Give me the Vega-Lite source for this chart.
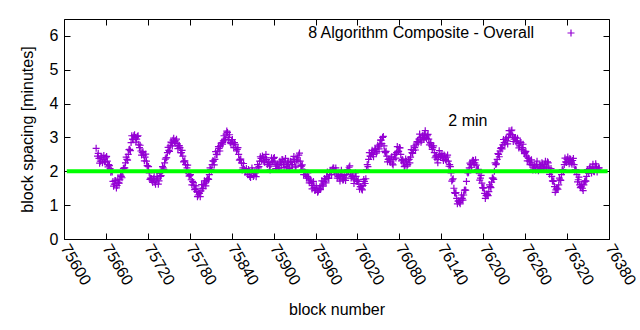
{
  "$schema": "https://vega.github.io/schema/vega-lite/v6.json",
  "width": 545,
  "height": 220,
  "autosize": {"type": "none"},
  "padding": {"left": 64, "top": 19, "right": 31, "bottom": 91},
  "background": "white",
  "config": {
    "font": "Liberation Sans",
    "view": {"stroke": "black", "strokeWidth": 1},
    "axis": {"grid": false, "domain": false, "tickColor": "black", "labelColor": "black", "titleColor": "black", "labelFontSize": 16, "titleFontSize": 16, "titleFontWeight": "normal", "labelFont": "Liberation Sans", "titleFont": "Liberation Sans"}
  },
  "datasets": {
    "blocks": [
      {"block":75646,"spacing":2.68},{"block":75648,"spacing":2.45},{"block":75650,"spacing":2.38},{"block":75652,"spacing":2.3},{"block":75654,"spacing":2.42},{"block":75656,"spacing":2.35},{"block":75658,"spacing":2.28},{"block":75660,"spacing":2.4},{"block":75662,"spacing":2.3},{"block":75664,"spacing":2.2},
      {"block":75666,"spacing":2.08},{"block":75668,"spacing":2.02},{"block":75670,"spacing":1.7},{"block":75672,"spacing":1.62},{"block":75674,"spacing":1.72},{"block":75676,"spacing":1.58},{"block":75678,"spacing":1.66},{"block":75680,"spacing":1.75},{"block":75682,"spacing":1.85},{"block":75684,"spacing":2.0},
      {"block":75686,"spacing":2.1},{"block":75688,"spacing":2.25},{"block":75690,"spacing":2.35},{"block":75692,"spacing":2.5},{"block":75694,"spacing":2.65},{"block":75696,"spacing":2.85},{"block":75698,"spacing":2.95},{"block":75700,"spacing":3.05},{"block":75702,"spacing":3.0},{"block":75704,"spacing":2.95},
      {"block":75706,"spacing":3.05},{"block":75708,"spacing":2.7},{"block":75710,"spacing":2.6},{"block":75712,"spacing":2.55},{"block":75714,"spacing":2.48},{"block":75716,"spacing":2.42},{"block":75718,"spacing":2.3},{"block":75720,"spacing":2.15},{"block":75722,"spacing":1.95},{"block":75724,"spacing":1.8},
      {"block":75726,"spacing":1.72},{"block":75728,"spacing":1.78},{"block":75730,"spacing":1.68},{"block":75732,"spacing":1.75},{"block":75734,"spacing":1.8},{"block":75736,"spacing":1.72},{"block":75738,"spacing":1.85},{"block":75740,"spacing":2.0},{"block":75742,"spacing":2.1},{"block":75744,"spacing":2.25},
      {"block":75746,"spacing":2.4},{"block":75748,"spacing":2.55},{"block":75750,"spacing":2.62},{"block":75752,"spacing":2.75},{"block":75754,"spacing":2.85},{"block":75756,"spacing":2.92},{"block":75758,"spacing":2.88},{"block":75760,"spacing":2.9},{"block":75762,"spacing":2.82},{"block":75764,"spacing":2.75},
      {"block":75766,"spacing":2.7},{"block":75768,"spacing":2.55},{"block":75770,"spacing":2.45},{"block":75772,"spacing":2.3},{"block":75774,"spacing":2.2},{"block":75776,"spacing":2.1},{"block":75778,"spacing":1.95},{"block":75780,"spacing":1.88},{"block":75782,"spacing":1.75},{"block":75784,"spacing":1.7},
      {"block":75786,"spacing":1.58},{"block":75788,"spacing":1.5},{"block":75790,"spacing":1.4},{"block":75792,"spacing":1.3},{"block":75794,"spacing":1.35},{"block":75796,"spacing":1.42},{"block":75798,"spacing":1.5},{"block":75800,"spacing":1.6},{"block":75802,"spacing":1.65},{"block":75804,"spacing":1.72},
      {"block":75806,"spacing":1.78},{"block":75808,"spacing":1.9},{"block":75810,"spacing":2.05},{"block":75812,"spacing":2.2},{"block":75814,"spacing":2.3},{"block":75816,"spacing":2.35},{"block":75818,"spacing":2.5},{"block":75820,"spacing":2.6},{"block":75822,"spacing":2.68},{"block":75824,"spacing":2.75},
      {"block":75826,"spacing":2.85},{"block":75828,"spacing":2.9},{"block":75830,"spacing":2.95},{"block":75832,"spacing":3.1},{"block":75834,"spacing":3.15},{"block":75836,"spacing":3.0},{"block":75838,"spacing":2.85},{"block":75840,"spacing":2.9},{"block":75842,"spacing":2.8},{"block":75844,"spacing":2.85},
      {"block":75846,"spacing":2.7},{"block":75848,"spacing":2.65},{"block":75850,"spacing":2.5},{"block":75852,"spacing":2.35},{"block":75854,"spacing":2.25},{"block":75856,"spacing":2.1},{"block":75858,"spacing":2.05},{"block":75860,"spacing":2.0},{"block":75862,"spacing":1.98},{"block":75864,"spacing":2.05},
      {"block":75866,"spacing":1.85},{"block":75868,"spacing":1.95},{"block":75870,"spacing":2.02},{"block":75872,"spacing":1.88},{"block":75874,"spacing":1.95},{"block":75876,"spacing":2.0},{"block":75878,"spacing":2.1},{"block":75880,"spacing":2.3},{"block":75882,"spacing":2.38},{"block":75884,"spacing":2.45},
      {"block":75886,"spacing":2.3},{"block":75888,"spacing":2.4},{"block":75890,"spacing":2.35},{"block":75892,"spacing":2.25},{"block":75894,"spacing":2.15},{"block":75896,"spacing":2.2},{"block":75898,"spacing":2.3},{"block":75900,"spacing":2.38},{"block":75902,"spacing":2.25},{"block":75904,"spacing":2.15},
      {"block":75906,"spacing":2.2},{"block":75908,"spacing":2.1},{"block":75910,"spacing":2.25},{"block":75912,"spacing":2.35},{"block":75914,"spacing":2.2},{"block":75916,"spacing":2.3},{"block":75918,"spacing":2.15},{"block":75920,"spacing":2.25},{"block":75922,"spacing":2.1},{"block":75924,"spacing":2.3},
      {"block":75926,"spacing":2.2},{"block":75928,"spacing":2.35},{"block":75930,"spacing":2.28},{"block":75932,"spacing":2.15},{"block":75934,"spacing":2.4},{"block":75936,"spacing":2.48},{"block":75938,"spacing":2.3},{"block":75940,"spacing":2.15},{"block":75942,"spacing":2.05},{"block":75944,"spacing":1.98},
      {"block":75946,"spacing":1.9},{"block":75948,"spacing":1.85},{"block":75950,"spacing":1.8},{"block":75952,"spacing":1.72},{"block":75954,"spacing":1.65},{"block":75956,"spacing":1.58},{"block":75958,"spacing":1.52},{"block":75960,"spacing":1.45},{"block":75962,"spacing":1.5},{"block":75964,"spacing":1.42},
      {"block":75966,"spacing":1.5},{"block":75968,"spacing":1.58},{"block":75970,"spacing":1.62},{"block":75972,"spacing":1.7},{"block":75974,"spacing":1.75},{"block":75976,"spacing":1.85},{"block":75978,"spacing":1.8},{"block":75980,"spacing":1.9},{"block":75982,"spacing":1.98},{"block":75984,"spacing":2.05},
      {"block":75986,"spacing":2.1},{"block":75988,"spacing":2.0},{"block":75990,"spacing":1.95},{"block":75992,"spacing":1.85},{"block":75994,"spacing":1.8},{"block":75996,"spacing":1.9},{"block":75998,"spacing":1.85},{"block":76000,"spacing":1.75},{"block":76002,"spacing":1.8},{"block":76004,"spacing":1.9},
      {"block":76006,"spacing":2.05},{"block":76008,"spacing":2.12},{"block":76010,"spacing":1.95},{"block":76012,"spacing":1.85},{"block":76014,"spacing":1.8},{"block":76016,"spacing":1.75},{"block":76018,"spacing":1.85},{"block":76020,"spacing":1.7},{"block":76022,"spacing":1.62},{"block":76024,"spacing":1.55},
      {"block":76026,"spacing":1.48},{"block":76028,"spacing":1.58},{"block":76030,"spacing":1.7},{"block":76032,"spacing":1.78},{"block":76034,"spacing":2.2},{"block":76036,"spacing":2.35},{"block":76038,"spacing":2.45},{"block":76040,"spacing":2.55},{"block":76042,"spacing":2.5},{"block":76044,"spacing":2.6},
      {"block":76046,"spacing":2.65},{"block":76048,"spacing":2.58},{"block":76050,"spacing":2.72},{"block":76052,"spacing":2.8},{"block":76054,"spacing":2.92},{"block":76056,"spacing":3.0},{"block":76058,"spacing":2.75},{"block":76060,"spacing":2.55},{"block":76062,"spacing":2.45},{"block":76064,"spacing":2.35},
      {"block":76066,"spacing":2.3},{"block":76068,"spacing":2.4},{"block":76070,"spacing":2.22},{"block":76072,"spacing":2.35},{"block":76074,"spacing":2.5},{"block":76076,"spacing":2.55},{"block":76078,"spacing":2.6},{"block":76080,"spacing":2.7},{"block":76082,"spacing":2.5},{"block":76084,"spacing":2.35},
      {"block":76086,"spacing":2.25},{"block":76088,"spacing":2.18},{"block":76090,"spacing":2.3},{"block":76092,"spacing":2.2},{"block":76094,"spacing":2.35},{"block":76096,"spacing":2.42},{"block":76098,"spacing":2.55},{"block":76100,"spacing":2.62},{"block":76102,"spacing":2.7},{"block":76104,"spacing":2.8},
      {"block":76106,"spacing":2.88},{"block":76108,"spacing":2.95},{"block":76110,"spacing":3.0},{"block":76112,"spacing":2.92},{"block":76114,"spacing":3.05},{"block":76116,"spacing":3.1},{"block":76118,"spacing":3.0},{"block":76120,"spacing":3.05},{"block":76122,"spacing":2.95},{"block":76124,"spacing":2.85},
      {"block":76126,"spacing":2.75},{"block":76128,"spacing":2.7},{"block":76130,"spacing":2.55},{"block":76132,"spacing":2.45},{"block":76134,"spacing":2.35},{"block":76136,"spacing":2.42},{"block":76138,"spacing":2.5},{"block":76140,"spacing":2.45},{"block":76142,"spacing":2.4},{"block":76144,"spacing":2.48},
      {"block":76146,"spacing":2.35},{"block":76148,"spacing":2.42},{"block":76150,"spacing":2.3},{"block":76152,"spacing":2.2},{"block":76154,"spacing":1.95},{"block":76156,"spacing":1.75},{"block":76158,"spacing":1.5},{"block":76160,"spacing":1.35},{"block":76162,"spacing":1.2},{"block":76164,"spacing":1.12},
      {"block":76166,"spacing":1.08},{"block":76168,"spacing":1.15},{"block":76170,"spacing":1.2},{"block":76172,"spacing":1.3},{"block":76174,"spacing":1.45},{"block":76176,"spacing":1.7},{"block":76178,"spacing":1.95},{"block":76180,"spacing":2.1},{"block":76182,"spacing":2.2},{"block":76184,"spacing":2.28},
      {"block":76186,"spacing":2.32},{"block":76188,"spacing":2.25},{"block":76190,"spacing":2.18},{"block":76192,"spacing":2.05},{"block":76194,"spacing":1.95},{"block":76196,"spacing":1.8},{"block":76198,"spacing":1.65},{"block":76200,"spacing":1.5},{"block":76202,"spacing":1.35},{"block":76204,"spacing":1.28},
      {"block":76206,"spacing":1.32},{"block":76208,"spacing":1.4},{"block":76210,"spacing":1.55},{"block":76212,"spacing":1.68},{"block":76214,"spacing":1.8},{"block":76216,"spacing":2.0},{"block":76218,"spacing":2.2},{"block":76220,"spacing":2.35},{"block":76222,"spacing":2.5},{"block":76224,"spacing":2.6},
      {"block":76226,"spacing":2.7},{"block":76228,"spacing":2.78},{"block":76230,"spacing":2.85},{"block":76232,"spacing":2.95},{"block":76234,"spacing":2.9},{"block":76236,"spacing":3.0},{"block":76238,"spacing":3.1},{"block":76240,"spacing":3.2},{"block":76242,"spacing":3.05},{"block":76244,"spacing":2.95},
      {"block":76246,"spacing":3.0},{"block":76248,"spacing":2.9},{"block":76250,"spacing":2.82},{"block":76252,"spacing":2.75},{"block":76254,"spacing":2.85},{"block":76256,"spacing":2.7},{"block":76258,"spacing":2.6},{"block":76260,"spacing":2.55},{"block":76262,"spacing":2.45},{"block":76264,"spacing":2.4},
      {"block":76266,"spacing":2.3},{"block":76268,"spacing":2.25},{"block":76270,"spacing":2.18},{"block":76272,"spacing":2.1},{"block":76274,"spacing":2.15},{"block":76276,"spacing":2.2},{"block":76278,"spacing":2.1},{"block":76280,"spacing":2.05},{"block":76282,"spacing":2.15},{"block":76284,"spacing":2.25},
      {"block":76286,"spacing":2.1},{"block":76288,"spacing":2.2},{"block":76290,"spacing":2.15},{"block":76292,"spacing":2.28},{"block":76294,"spacing":2.1},{"block":76296,"spacing":2.0},{"block":76298,"spacing":1.85},{"block":76300,"spacing":1.7},{"block":76302,"spacing":1.55},{"block":76304,"spacing":1.45},
      {"block":76306,"spacing":1.5},{"block":76308,"spacing":1.6},{"block":76310,"spacing":1.75},{"block":76312,"spacing":1.9},{"block":76314,"spacing":2.05},{"block":76316,"spacing":2.2},{"block":76318,"spacing":2.28},{"block":76320,"spacing":2.35},{"block":76322,"spacing":2.3},{"block":76324,"spacing":2.38},
      {"block":76326,"spacing":2.25},{"block":76328,"spacing":2.32},{"block":76330,"spacing":2.2},{"block":76332,"spacing":2.05},{"block":76334,"spacing":1.9},{"block":76336,"spacing":1.75},{"block":76338,"spacing":1.6},{"block":76340,"spacing":1.55},{"block":76342,"spacing":1.5},{"block":76344,"spacing":1.6},
      {"block":76346,"spacing":1.72},{"block":76348,"spacing":1.85},{"block":76350,"spacing":2.0},{"block":76352,"spacing":2.08},{"block":76354,"spacing":2.05},{"block":76356,"spacing":2.12},{"block":76358,"spacing":2.0},{"block":76360,"spacing":2.1},{"block":76362,"spacing":2.15},{"block":76364,"spacing":2.05},
      {"block":76366,"spacing":2.1},
      {"block":75649,"spacing":2.53},{"block":75651,"spacing":2.24},{"block":75653,"spacing":2.42},{"block":75655,"spacing":2.25},{"block":75657,"spacing":2.47},{"block":75659,"spacing":2.28},{"block":75661,"spacing":2.44},{"block":75663,"spacing":2.13},{"block":75665,"spacing":2.17},{"block":75667,"spacing":1.97},
      {"block":75669,"spacing":1.98},{"block":75671,"spacing":1.56},{"block":75673,"spacing":1.73},{"block":75675,"spacing":1.51},{"block":75677,"spacing":1.77},{"block":75679,"spacing":1.65},{"block":75681,"spacing":1.89},{"block":75683,"spacing":1.81},{"block":75685,"spacing":2.08},{"block":75687,"spacing":2.1},
      {"block":75689,"spacing":2.42},{"block":75691,"spacing":2.33},{"block":75693,"spacing":2.64},{"block":75695,"spacing":2.61},{"block":75697,"spacing":3.05},{"block":75699,"spacing":2.94},{"block":75701,"spacing":3.08},{"block":75703,"spacing":2.86},{"block":75705,"spacing":3.03},{"block":75707,"spacing":2.8},
      {"block":75709,"spacing":2.77},{"block":75711,"spacing":2.48},{"block":75713,"spacing":2.58},{"block":75715,"spacing":2.31},{"block":75717,"spacing":2.51},{"block":75719,"spacing":2.17},{"block":75721,"spacing":2.14},{"block":75723,"spacing":1.76},{"block":75725,"spacing":1.79},{"block":75727,"spacing":1.67},
      {"block":75729,"spacing":1.85},{"block":75731,"spacing":1.62},{"block":75733,"spacing":1.84},{"block":75735,"spacing":1.62},{"block":75737,"spacing":1.94},{"block":75739,"spacing":1.87},{"block":75741,"spacing":2.14},{"block":75743,"spacing":2.06},{"block":75745,"spacing":2.36},{"block":75747,"spacing":2.4},
      {"block":75749,"spacing":2.71},{"block":75751,"spacing":2.59},{"block":75753,"spacing":2.86},{"block":75755,"spacing":2.75},{"block":75757,"spacing":2.98},{"block":75759,"spacing":2.83},{"block":75761,"spacing":2.95},{"block":75763,"spacing":2.67},{"block":75765,"spacing":2.76},{"block":75767,"spacing":2.55},
      {"block":75769,"spacing":2.62},{"block":75771,"spacing":2.28},{"block":75773,"spacing":2.31},{"block":75775,"spacing":2.01},{"block":75777,"spacing":2.18},{"block":75779,"spacing":1.86},{"block":75781,"spacing":1.9},{"block":75783,"spacing":1.6},{"block":75785,"spacing":1.67},{"block":75787,"spacing":1.46},
      {"block":75789,"spacing":1.57},{"block":75791,"spacing":1.25},{"block":75793,"spacing":1.38},{"block":75795,"spacing":1.25},{"block":75797,"spacing":1.61},{"block":75799,"spacing":1.49},{"block":75801,"spacing":1.72},{"block":75803,"spacing":1.57},{"block":75805,"spacing":1.78},{"block":75807,"spacing":1.76},
      {"block":75809,"spacing":2.1},{"block":75811,"spacing":2.03},{"block":75813,"spacing":2.31},{"block":75815,"spacing":2.19},{"block":75817,"spacing":2.58},{"block":75819,"spacing":2.49},{"block":75821,"spacing":2.73},{"block":75823,"spacing":2.6},{"block":75825,"spacing":2.83},{"block":75827,"spacing":2.8},
      {"block":75829,"spacing":3.05},{"block":75831,"spacing":2.93},{"block":75833,"spacing":3.19},{"block":75835,"spacing":2.94},{"block":75837,"spacing":3.08},{"block":75839,"spacing":2.82},{"block":75841,"spacing":2.94},{"block":75843,"spacing":2.7},{"block":75845,"spacing":2.8},{"block":75847,"spacing":2.6},
      {"block":75849,"spacing":2.7},{"block":75851,"spacing":2.33},{"block":75853,"spacing":2.36},{"block":75855,"spacing":2.04},{"block":75857,"spacing":2.23},{"block":75859,"spacing":1.97},{"block":75861,"spacing":2.08},{"block":75863,"spacing":1.9},{"block":75865,"spacing":1.98},{"block":75867,"spacing":1.82},
      {"block":75869,"spacing":2.1},{"block":75871,"spacing":1.85},{"block":75873,"spacing":1.98},{"block":75875,"spacing":1.84},{"block":75877,"spacing":2.2},{"block":75879,"spacing":2.14},{"block":75881,"spacing":2.43},{"block":75883,"spacing":2.3},{"block":75885,"spacing":2.41},{"block":75887,"spacing":2.27},
      {"block":75889,"spacing":2.5},{"block":75891,"spacing":2.2},{"block":75893,"spacing":2.26},{"block":75895,"spacing":2.04},{"block":75897,"spacing":2.4},{"block":75899,"spacing":2.28},{"block":75901,"spacing":2.41},{"block":75903,"spacing":2.08},{"block":75905,"spacing":2.21},{"block":75907,"spacing":2.07},
      {"block":75909,"spacing":2.3},{"block":75911,"spacing":2.2},{"block":75913,"spacing":2.34},{"block":75915,"spacing":2.11},{"block":75917,"spacing":2.38},{"block":75919,"spacing":2.14},{"block":75921,"spacing":2.27},{"block":75923,"spacing":2.08},{"block":75925,"spacing":2.28},{"block":75927,"spacing":2.2},
      {"block":75929,"spacing":2.44},{"block":75931,"spacing":2.12},{"block":75933,"spacing":2.34},{"block":75935,"spacing":2.3},{"block":75937,"spacing":2.54},{"block":75939,"spacing":2.17},{"block":75941,"spacing":2.19},{"block":75943,"spacing":1.9},{"block":75945,"spacing":1.97},{"block":75947,"spacing":1.8},
      {"block":75949,"spacing":1.95},{"block":75951,"spacing":1.66},{"block":75953,"spacing":1.75},{"block":75955,"spacing":1.48},{"block":75957,"spacing":1.7},{"block":75959,"spacing":1.43},{"block":75961,"spacing":1.57},{"block":75963,"spacing":1.38},{"block":75965,"spacing":1.49},{"block":75967,"spacing":1.46},
      {"block":75969,"spacing":1.72},{"block":75971,"spacing":1.56},{"block":75973,"spacing":1.79},{"block":75975,"spacing":1.66},{"block":75977,"spacing":1.98},{"block":75979,"spacing":1.79},{"block":75981,"spacing":2.03},{"block":75983,"spacing":1.9},{"block":75985,"spacing":2.1},{"block":75987,"spacing":1.97},
      {"block":75989,"spacing":2.1},{"block":75991,"spacing":1.8},{"block":75993,"spacing":1.89},{"block":75995,"spacing":1.71},{"block":75997,"spacing":2.03},{"block":75999,"spacing":1.74},{"block":76001,"spacing":1.87},{"block":76003,"spacing":1.73},{"block":76005,"spacing":2.0},{"block":76007,"spacing":2.0},
      {"block":76009,"spacing":2.16},{"block":76011,"spacing":1.8},{"block":76013,"spacing":1.89},{"block":76015,"spacing":1.64},{"block":76017,"spacing":1.95},{"block":76019,"spacing":1.72},{"block":76021,"spacing":1.75},{"block":76023,"spacing":1.47},{"block":76025,"spacing":1.55},{"block":76027,"spacing":1.45},
      {"block":76029,"spacing":1.76},{"block":76031,"spacing":1.64},{"block":76033,"spacing":2.05},{"block":76035,"spacing":2.14},{"block":76037,"spacing":2.55},{"block":76039,"spacing":2.44},{"block":76041,"spacing":2.62},{"block":76043,"spacing":2.43},{"block":76045,"spacing":2.66},{"block":76047,"spacing":2.54},
      {"block":76049,"spacing":2.77},{"block":76051,"spacing":2.66},{"block":76053,"spacing":2.92},{"block":76055,"spacing":2.82},{"block":76057,"spacing":3.03},{"block":76059,"spacing":2.59},{"block":76061,"spacing":2.59},{"block":76063,"spacing":2.28},{"block":76065,"spacing":2.36},{"block":76067,"spacing":2.27},
      {"block":76069,"spacing":2.43},{"block":76071,"spacing":2.19},{"block":76073,"spacing":2.49},{"block":76075,"spacing":2.39},{"block":76077,"spacing":2.73},{"block":76079,"spacing":2.59},{"block":76081,"spacing":2.69},{"block":76083,"spacing":2.31},{"block":76085,"spacing":2.33},{"block":76087,"spacing":2.14},
      {"block":76089,"spacing":2.36},{"block":76091,"spacing":2.15},{"block":76093,"spacing":2.34},{"block":76095,"spacing":2.25},{"block":76097,"spacing":2.64},{"block":76099,"spacing":2.53},{"block":76101,"spacing":2.75},{"block":76103,"spacing":2.63},{"block":76105,"spacing":2.87},{"block":76107,"spacing":2.84},
      {"block":76109,"spacing":3.1},{"block":76111,"spacing":2.86},{"block":76113,"spacing":3.05},{"block":76115,"spacing":2.94},{"block":76117,"spacing":3.2},{"block":76119,"spacing":2.97},{"block":76121,"spacing":3.09},{"block":76123,"spacing":2.78},{"block":76125,"spacing":2.83},{"block":76127,"spacing":2.65},
      {"block":76129,"spacing":2.75},{"block":76131,"spacing":2.4},{"block":76133,"spacing":2.46},{"block":76135,"spacing":2.25},{"block":76137,"spacing":2.61},{"block":76139,"spacing":2.42},{"block":76141,"spacing":2.52},{"block":76143,"spacing":2.32},{"block":76145,"spacing":2.45},{"block":76147,"spacing":2.31},
      {"block":76149,"spacing":2.48},{"block":76151,"spacing":2.15},{"block":76153,"spacing":2.14},{"block":76155,"spacing":1.71},{"block":76157,"spacing":1.78},{"block":76159,"spacing":1.37},{"block":76161,"spacing":1.37},{"block":76163,"spacing":1.04},{"block":76165,"spacing":1.13},{"block":76167,"spacing":1.04},
      {"block":76169,"spacing":1.3},{"block":76171,"spacing":1.15},{"block":76173,"spacing":1.44},{"block":76175,"spacing":1.44},{"block":76177,"spacing":1.98},{"block":76179,"spacing":1.97},{"block":76181,"spacing":2.24},{"block":76183,"spacing":2.12},{"block":76185,"spacing":2.33},{"block":76187,"spacing":2.2},
      {"block":76189,"spacing":2.34},{"block":76191,"spacing":2.02},{"block":76193,"spacing":2.06},{"block":76195,"spacing":1.74},{"block":76197,"spacing":1.88},{"block":76199,"spacing":1.52},{"block":76201,"spacing":1.52},{"block":76203,"spacing":1.2},{"block":76205,"spacing":1.33},{"block":76207,"spacing":1.28},
      {"block":76209,"spacing":1.6},{"block":76211,"spacing":1.52},{"block":76213,"spacing":1.8},{"block":76215,"spacing":1.76},{"block":76217,"spacing":2.25},{"block":76219,"spacing":2.22},{"block":76221,"spacing":2.52},{"block":76223,"spacing":2.43},{"block":76225,"spacing":2.68},{"block":76227,"spacing":2.66},
      {"block":76229,"spacing":2.94},{"block":76231,"spacing":2.8},{"block":76233,"spacing":2.99},{"block":76235,"spacing":2.81},{"block":76237,"spacing":3.2},{"block":76239,"spacing":3.09},{"block":76241,"spacing":3.22},{"block":76243,"spacing":2.88},{"block":76245,"spacing":3.0},{"block":76247,"spacing":2.87},
      {"block":76249,"spacing":2.98},{"block":76251,"spacing":2.69},{"block":76253,"spacing":2.86},{"block":76255,"spacing":2.64},{"block":76257,"spacing":2.8},{"block":76259,"spacing":2.52},{"block":76261,"spacing":2.59},{"block":76263,"spacing":2.31},{"block":76265,"spacing":2.38},{"block":76267,"spacing":2.2},
      {"block":76269,"spacing":2.34},{"block":76271,"spacing":2.04},{"block":76273,"spacing":2.19},{"block":76275,"spacing":2.04},{"block":76277,"spacing":2.3},{"block":76279,"spacing":2.02},{"block":76281,"spacing":2.19},{"block":76283,"spacing":2.08},{"block":76285,"spacing":2.21},{"block":76287,"spacing":2.07},
      {"block":76289,"spacing":2.3},{"block":76291,"spacing":2.12},{"block":76293,"spacing":2.25},{"block":76295,"spacing":1.91},{"block":76297,"spacing":2.08},{"block":76299,"spacing":1.72},{"block":76301,"spacing":1.72},{"block":76303,"spacing":1.38},{"block":76305,"spacing":1.5},{"block":76307,"spacing":1.47},
      {"block":76309,"spacing":1.8},{"block":76311,"spacing":1.73},{"block":76313,"spacing":2.04},{"block":76315,"spacing":1.99},{"block":76317,"spacing":2.39},{"block":76319,"spacing":2.26},{"block":76321,"spacing":2.42},{"block":76323,"spacing":2.22},{"block":76325,"spacing":2.35},{"block":76327,"spacing":2.21},
      {"block":76329,"spacing":2.38},{"block":76331,"spacing":2.03},{"block":76333,"spacing":2.04},{"block":76335,"spacing":1.69},{"block":76337,"spacing":1.83},{"block":76339,"spacing":1.52},{"block":76341,"spacing":1.62},{"block":76343,"spacing":1.43},{"block":76345,"spacing":1.69},{"block":76347,"spacing":1.71},
      {"block":76349,"spacing":2.05},{"block":76351,"spacing":1.94},{"block":76353,"spacing":2.13},{"block":76355,"spacing":1.95},{"block":76357,"spacing":2.21},{"block":76359,"spacing":1.99},{"block":76361,"spacing":2.22},{"block":76363,"spacing":1.98},{"block":76365,"spacing":2.1}
    ],
    "target": [{"block": 75604, "spacing": 2}, {"block": 76378, "spacing": 2}],
    "notes": [{"block": 76150, "spacing": 3.5, "label": "2 min"}]
  },
  "layer": [
    {
      "data": {"name": "blocks"},
      "mark": {"type": "point", "shape": "M-1,0H1M0,-1V1", "size": 49, "filled": false, "strokeWidth": 1.2, "opacity": 1},
      "encoding": {
        "x": {"field": "block", "type": "quantitative",
          "scale": {"domain": [75600, 76380], "nice": false, "zero": false},
          "axis": {"orient": "bottom", "values": [75600,75660,75720,75780,75840,75900,75960,76020,76080,76140,76200,76260,76320,76380], "format": "d", "labelAngle": 60, "labelAlign": "left", "labelBaseline": "middle", "tickSize": -6, "labelPadding": 12, "title": "block number", "titlePadding": 14}},
        "y": {"field": "spacing", "type": "quantitative",
          "scale": {"domain": [0, 6.5], "nice": false, "zero": true},
          "axis": {"orient": "left", "values": [0,1,2,3,4,5,6], "tickSize": -6, "labelPadding": 12, "title": "block spacing [minutes]", "titlePadding": 14}},
        "color": {"datum": "8 Algorithm Composite - Overall", "type": "nominal",
          "scale": {"range": ["#9400d3"]},
          "legend": {"orient": "none", "legendX": 499, "legendY": 6, "title": null, "padding": 0, "labelFontSize": 16, "labelFont": "Liberation Sans", "labelColor": "black", "labelAlign": "right", "labelOffset": -45, "labelLimit": 0, "symbolType": "M-1,0H1M0,-1V1", "symbolSize": 49, "symbolStrokeWidth": 1.2}}
      }
    },
    {
      "data": {"name": "target"},
      "mark": {"type": "line", "color": "#00ff00", "strokeWidth": 4},
      "encoding": {
        "x": {"field": "block", "type": "quantitative", "axis": {"orient": "top", "values": [75600,75660,75720,75780,75840,75900,75960,76020,76080,76140,76200,76260,76320,76380], "labels": false, "tickSize": -6, "title": null}},
        "y": {"field": "spacing", "type": "quantitative", "axis": {"orient": "right", "values": [0,1,2,3,4,5,6], "labels": false, "tickSize": -6, "title": null}}
      }
    },
    {
      "data": {"name": "notes"},
      "mark": {"type": "text", "align": "left", "baseline": "middle", "fontSize": 16, "font": "Liberation Sans", "color": "black"},
      "encoding": {
        "x": {"field": "block", "type": "quantitative", "axis": null},
        "y": {"field": "spacing", "type": "quantitative", "axis": null},
        "text": {"field": "label"}
      }
    }
  ]
}
